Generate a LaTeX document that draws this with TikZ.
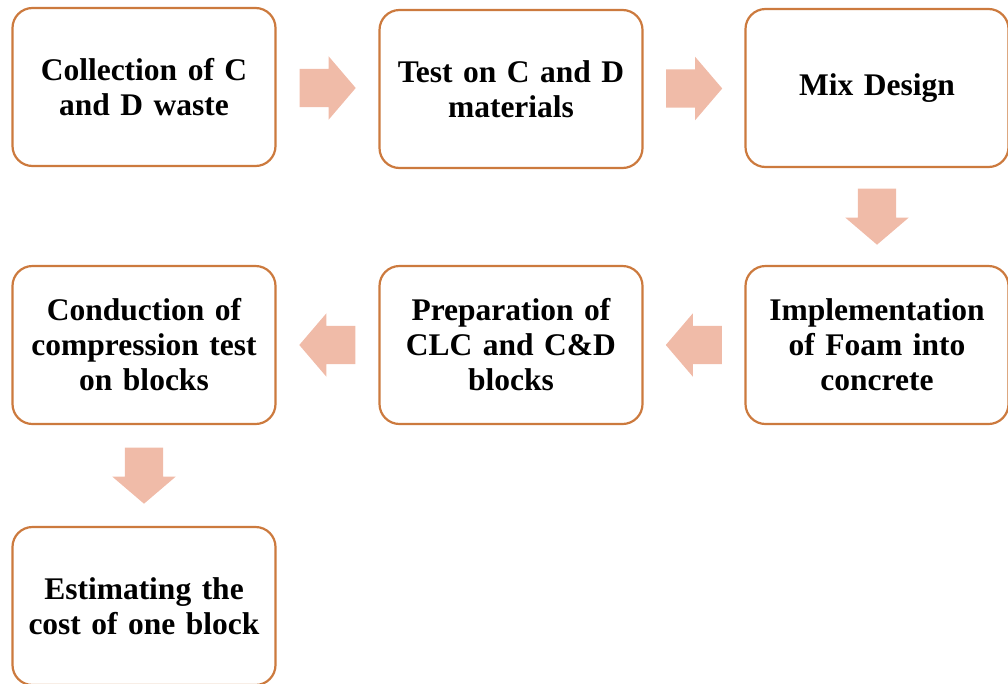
\documentclass[tikz,border=0pt]{standalone}
\usepackage{fontspec}
\setmainfont{Liberation Serif}
\usetikzlibrary{shapes.arrows,calc,positioning}
\definecolor{boxline}{RGB}{204,122,62}
\definecolor{salmon}{RGB}{240,187,168}

\begin{document}
\begin{tikzpicture}[x=1pt, y=-1pt,
	stage/.style={draw=boxline, line width=2.2pt, rounded corners=20pt, fill=white,
		minimum width=263pt, minimum height=158pt, text width=258pt, align=center,
		inner sep=0pt, font=\fontsize{31.5}{35}\selectfont\bfseries},
	fwd/.style={single arrow, fill=salmon, draw=none, inner xsep=0pt, inner ysep=19pt,
		minimum height=56pt, minimum width=63pt, anchor=tail,
		single arrow head extend=12.5pt, single arrow tip angle=99},
	goleft/.style={shape border rotate=180},
	godown/.style={shape border rotate=270, inner xsep=19pt, inner ysep=0pt}]

	\useasboundingbox (0,0) rectangle (1008,683);

	% first row
	\node[stage] (collect) at (144,87) {Collection of C\\and D waste};
	\node[stage] (test) at (511,89) {Test on C and D\\materials};
	\node[stage] (mix) at (877,88) {Mix Design};
	% second row, right to left
	\node[stage] (foam) at (877,345) {Implementation\\of Foam into\\concrete};
	\node[stage] (prep) at (511,345) {Preparation of\\CLC and C\&D\\blocks};
	\node[stage] (comp) at (144,345) {Conduction of\\compression test\\on blocks};
	% last
	\node[stage] (cost) at (144,606) {Estimating the\\cost of one block};

	% block arrows (placed by their tails)
	\node[fwd] (a1) at ($(collect.east)!0.5!(test.west)+(-28,0)$) {};
	\node[fwd] (a2) at ($(test.east)!0.5!(mix.west)+(-28,0)$) {};
	\node[fwd, godown] (a3) at ($(mix.south)!0.5!(foam.north)+(0,-28)$) {};
	\node[fwd, goleft] (a4) at ($(foam.west)!0.5!(prep.east)+(28,0)$) {};
	\node[fwd, goleft] (a5) at ($(prep.west)!0.5!(comp.east)+(28,0)$) {};
	\node[fwd, godown] (a6) at ($(comp.south)!0.5!(cost.north)+(0,-28)$) {};

\end{tikzpicture}
\end{document}
